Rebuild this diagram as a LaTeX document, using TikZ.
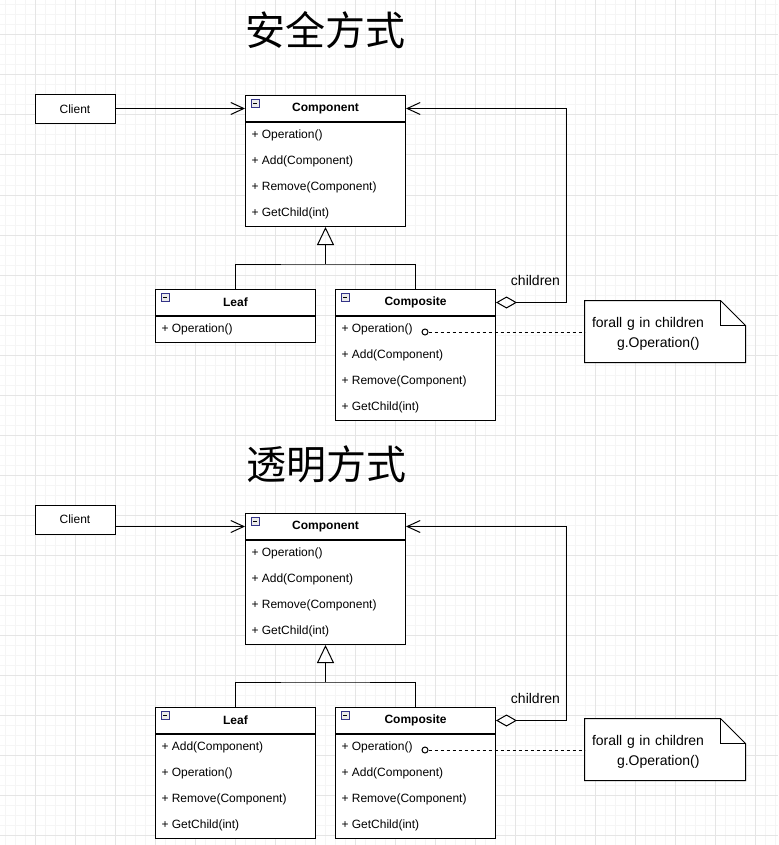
\documentclass[tikz,border=0pt]{standalone}
\usepackage{fontspec}
\setmainfont{Liberation Sans}
\newfontfamily\cjkfont{Noto Sans CJK SC}
\usetikzlibrary{arrows.meta,calc}

\begin{document}
\begin{tikzpicture}[x=0.75pt, y=-0.75pt, line width=0.75pt,
    every node/.style={font=\fontsize{9}{11}\selectfont, inner sep=0pt},
    title/.style={font=\cjkfont\fontsize{30}{36}\selectfont},
    box/.style={draw, fill=white, minimum width=60pt, minimum height=21.75pt},
    head/.style={draw, fill=white, anchor=north west, minimum width=120pt,
      minimum height=19.5pt, font=\bfseries\fontsize{9}{11}\selectfont},
    body/.style={draw, fill=white, anchor=north west, minimum width=120pt},
    row/.style={anchor=west},
    lbl/.style={font=\fontsize{10.5}{13}\selectfont},
    note/.style={minimum height=45.75pt, text width=109.5pt, inner xsep=5.25pt,
      align=left, font=\fontsize{10.5}{15}\selectfont},
    dot/.style={draw, circle, fill=white, minimum size=4.5pt},
    icon/.style={draw=black!45!blue!60!gray, fill=black!8, line width=0.6pt},
    assoc/.style={-{Straight Barb[length=9.75pt,width=9pt]}},
    inherit/.style={-{Triangle[open,length=13.5pt,width=12.75pt]}},
    aggr/.style={{Diamond[open,length=15.75pt,width=9pt]}-{Straight Barb[length=9.75pt,width=9pt]}}
  ]
  % background grid
  \useasboundingbox[fill=white] (0,0) rectangle (778,845);
  \foreach \k in {5,15,...,845} \draw[black!4] (0,\k) -- (778,\k);
  \foreach \k in {5,15,...,775} \draw[black!4] (\k,0) -- (\k,845);
  \foreach \k in {35,75,...,835} \draw[black!10] (0,\k) -- (778,\k);
  \foreach \k in {35,75,...,775} \draw[black!10] (\k,0) -- (\k,845);

  % ---------- safe mode ----------
  \node[title] (t1) at (325,30.5) {安全方式};
  \node[box] (client1) at (75,109.5) {Client};
  % Component
  \node[head] (comp1) at (245,95) {Component};
  \node[body, minimum height=78pt] (comp1b) at (comp1.south west) {};
  \foreach \t [count=\i from 0] in {Operation(),Add(Component),Remove(Component),GetChild(int)}
    \node[row] at ($(comp1b.north west)+(6,13+26*\i)$) {+ \t};
  % Leaf
  \node[head] (leaf1) at (155,289) {Leaf};
  \node[body, minimum height=19.5pt] (leaf1b) at (leaf1.south west) {};
  \node[row] at ($(leaf1b.north west)+(6,13)$) {+ Operation()};
  % Composite
  \node[head] (compo1) at (335,289) {Composite};
  \node[body, minimum height=78pt] (compo1b) at (compo1.south west) {};
  \foreach \t [count=\i from 0] in {Operation(),Add(Component),Remove(Component),GetChild(int)}
    \node[row] at ($(compo1b.north west)+(6,13+26*\i)$) {+ \t};
  % collapse icons
  \foreach \c in {comp1,leaf1,compo1} {
    \draw[icon] ($(\c.north west)+(6,4)$) rectangle ++(8,8);
    \draw[line width=0.6pt] ($(\c.north west)+(8,8)$) -- ++(4,0);
  }
  % note
  \node[note] (note1) at (665,331.5) {};
  \draw[fill=white] (note1.south west) -- (note1.north west) -- ($(note1.north east)+(-25,0)$)
    -- ($(note1.north east)+(0,25)$) -- (note1.south east) -- cycle;
  \draw ($(note1.north east)+(-25,0)$) -- ++(0,25) -- ++(25,0);
  \node[note] at ($(note1.center)+(0,2)$) {forall g in children\\\hspace*{18.75pt}g.Operation()};
  % connectors
  \draw[assoc] (client1.east |- comp1.west) -- (comp1.west);
  \coordinate (j1) at ($(comp1b.south)+(0,37)$);
  \draw[inherit] (j1) -- (comp1b.south);
  \draw (leaf1.north) |- (j1) -| (compo1.north);
  \draw[aggr] (compo1.east) -- ++(70,0) |- (comp1.east);
  \node[lbl] (ch1) at (535.5,280) {children};
  \node[dot] (c1) at ($(compo1b.north west)+(90,16)$) {};
  \draw[dash pattern=on 2.25pt off 2.25pt] (c1.east) -- (c1.east -| note1.west);

  % ---------- transparent mode ----------
  \node[title] (t2) at (326,464) {透明方式};
  \node[box] (client2) at (75,519.5) {Client};
  % Component
  \node[head] (comp2) at (245,513) {Component};
  \node[body, minimum height=78pt] (comp2b) at (comp2.south west) {};
  \foreach \t [count=\i from 0] in {Operation(),Add(Component),Remove(Component),GetChild(int)}
    \node[row] at ($(comp2b.north west)+(6,13+26*\i)$) {+ \t};
  % Leaf
  \node[head] (leaf2) at (155,707) {Leaf};
  \node[body, minimum height=78pt] (leaf2b) at (leaf2.south west) {};
  \foreach \t [count=\i from 0] in {Add(Component),Operation(),Remove(Component),GetChild(int)}
    \node[row] at ($(leaf2b.north west)+(6,13+26*\i)$) {+ \t};
  % Composite
  \node[head] (compo2) at (335,707) {Composite};
  \node[body, minimum height=78pt] (compo2b) at (compo2.south west) {};
  \foreach \t [count=\i from 0] in {Operation(),Add(Component),Remove(Component),GetChild(int)}
    \node[row] at ($(compo2b.north west)+(6,13+26*\i)$) {+ \t};
  % collapse icons
  \foreach \c in {comp2,leaf2,compo2} {
    \draw[icon] ($(\c.north west)+(6,4)$) rectangle ++(8,8);
    \draw[line width=0.6pt] ($(\c.north west)+(8,8)$) -- ++(4,0);
  }
  % note
  \node[note] (note2) at (665,749.5) {};
  \draw[fill=white] (note2.south west) -- (note2.north west) -- ($(note2.north east)+(-25,0)$)
    -- ($(note2.north east)+(0,25)$) -- (note2.south east) -- cycle;
  \draw ($(note2.north east)+(-25,0)$) -- ++(0,25) -- ++(25,0);
  \node[note] at ($(note2.center)+(0,2)$) {forall g in children\\\hspace*{18.75pt}g.Operation()};
  % connectors
  \draw[assoc] (client2.east |- comp2.west) -- (comp2.west);
  \coordinate (j2) at ($(comp2b.south)+(0,37)$);
  \draw[inherit] (j2) -- (comp2b.south);
  \draw (leaf2.north) |- (j2) -| (compo2.north);
  \draw[aggr] (compo2.east) -- ++(70,0) |- (comp2.east);
  \node[lbl] (ch2) at (535.5,698) {children};
  \node[dot] (c2) at ($(compo2b.north west)+(90,16)$) {};
  \draw[dash pattern=on 2.25pt off 2.25pt] (c2.east) -- (c2.east -| note2.west);
\end{tikzpicture}
\end{document}
